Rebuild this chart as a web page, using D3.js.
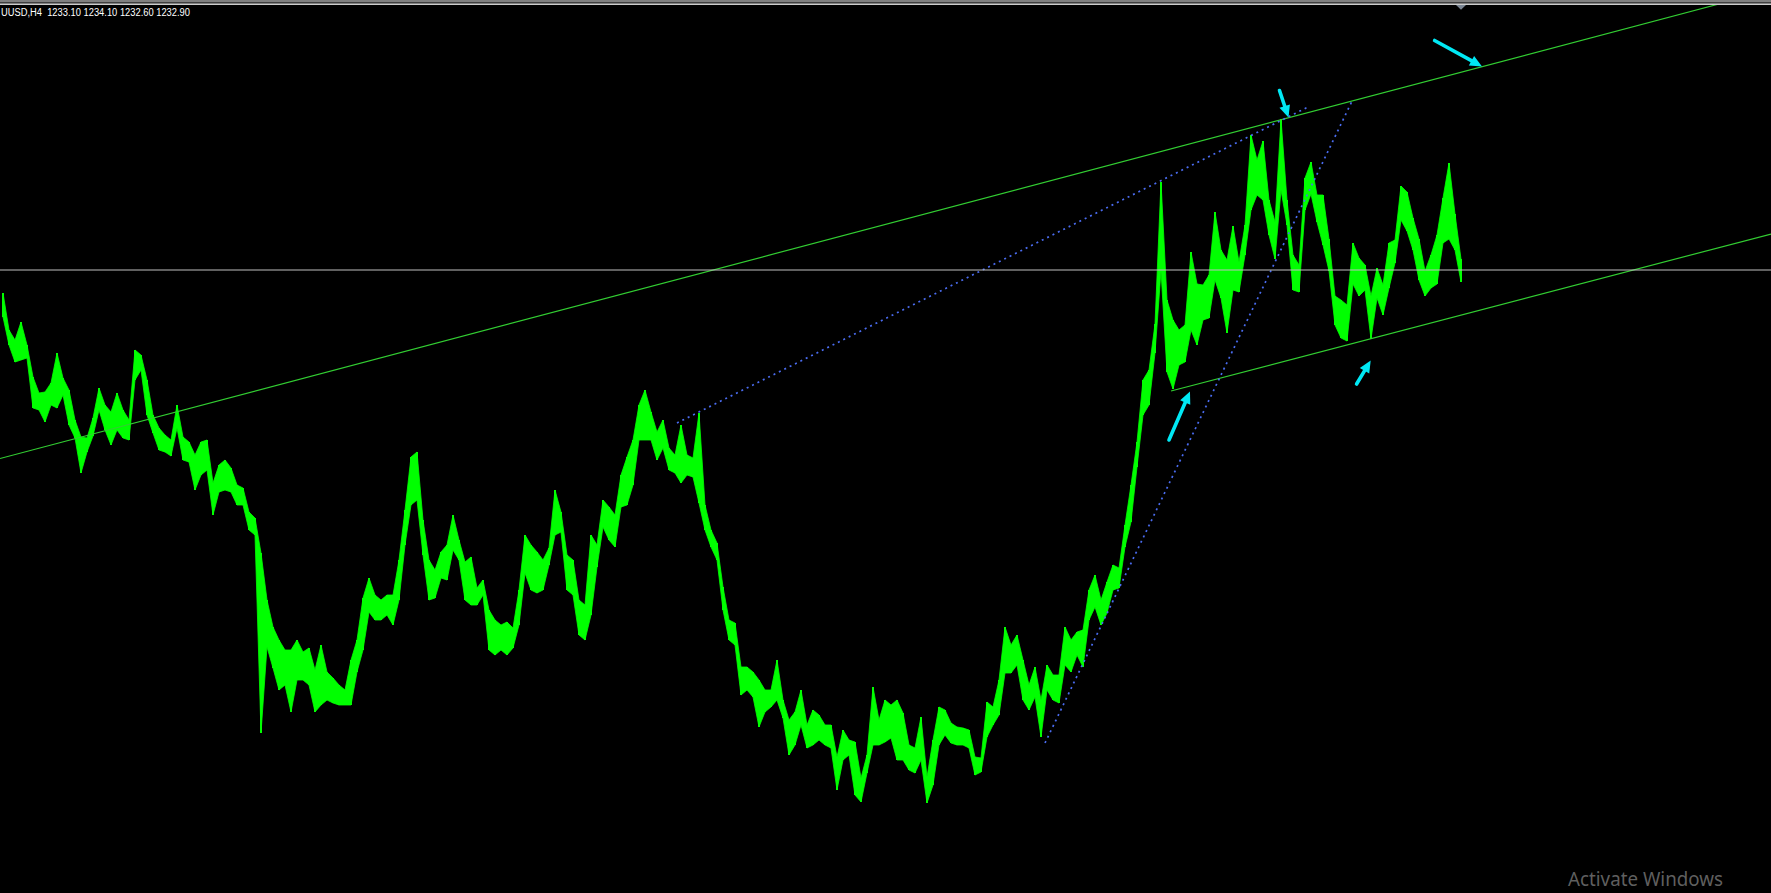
<!DOCTYPE html>
<html><head><meta charset="utf-8">
<script src="https://cdn.jsdelivr.net/npm/d3@7"></script>
<style>html,body{margin:0;padding:0;background:#000;overflow:hidden}</style>
</head><body><svg id="chart"></svg>
<script>
// ---- data ----
const symbolName = "UUSD";
const timeframe = "H4";
const ohlc = [1233.10, 1234.10, 1232.60, 1232.90];
const bidPrice = 1232.90;
const watermark = "Activate Windows";

const highs = [
1228.3,1220.9,1218.9,1222.5,1217.9,1211.5,1208.3,1208.5,1210.3,1216.3,
1211.3,1208.9,1202.9,1199.5,1199.3,1203.3,1209.3,1205.9,1204.5,1208.3,
1204.9,1202.9,1216.9,1215.9,1210.9,1203.9,1201.3,1199.9,1198.9,1205.9,
1199.5,1198.5,1195.9,1198.5,1198.9,1190.3,1193.9,1194.9,1193.3,1189.9,
1189.3,1184.5,1183.3,1176.3,1166.9,1161.5,1158.9,1156.9,1156.9,1158.9,
1156.5,1157.3,1152.9,1157.9,1152.5,1151.3,1149.9,1148.9,1154.9,1158.9,
1167.3,1171.3,1167.9,1166.9,1167.9,1167.9,1174.9,1184.9,1195.5,1196.5,
1182.9,1174.9,1172.9,1176.5,1177.9,1183.9,1178.9,1174.5,1175.5,1169.3,
1170.9,1164.9,1162.9,1161.9,1162.5,1161.3,1168.9,1179.9,1177.9,1176.5,
1174.9,1177.3,1188.9,1184.5,1175.9,1174.9,1166.9,1165.9,1179.9,1177.9,
1186.9,1185.5,1183.9,1191.9,1195.5,1198.9,1205.9,1208.9,1204.5,1200.5,
1202.9,1197.3,1195.9,1201.9,1195.9,1195.3,1204.3,1185.9,1180.9,1178.3,
1169.5,1162.9,1162.3,1153.5,1153.5,1152.5,1150.9,1148.9,1148.9,1154.9,
1146.9,1142.9,1144.5,1148.9,1141.9,1144.9,1143.9,1141.9,1141.9,1135.5,
1140.9,1138.9,1138.5,1131.3,1135.9,1149.5,1142.9,1146.9,1145.9,1146.9,
1144.3,1137.9,1137.3,1143.5,1131.5,1138.9,1145.5,1144.9,1142.3,1141.5,
1141.3,1140.9,1135.5,1135.3,1146.5,1145.5,1150.9,1161.5,1157.9,1159.9,
1154.9,1149.9,1153.5,1146.9,1153.9,1151.9,1151.9,1161.5,1158.9,1160.5,
1160.9,1168.9,1171.9,1166.9,1170.5,1173.9,1173.3,1181.9,1189.9,1198.5,
1210.9,1212.9,1222.1,1250.5,1226.9,1222.9,1220.9,1221.9,1236.5,1230.1,
1229.9,1231.9,1244.5,1236.9,1234.9,1241.7,1234.5,1241.9,1259.9,1254.9,
1258.7,1246.9,1242.5,1263.1,1246.9,1235.9,1233.9,1251.3,1254.5,1247.9,
1247.9,1239.1,1227.7,1226.9,1225.9,1238.3,1235.3,1233.9,1227.7,1233.3,
1229.9,1238.3,1238.9,1249.7,1248.5,1243.3,1239.1,1232.7,1235.9,1239.9,
1247.3,1254.3,1244.1,1235.1];

const lows = [
1223.5,1217.9,1214.5,1214.9,1215.3,1205.3,1204.9,1202.5,1205.9,1205.3,
1207.9,1201.9,1199.3,1192.3,1196.5,1199.7,1204.9,1200.9,1197.9,1200.9,
1199.3,1198.9,1210.9,1212.9,1203.9,1200.3,1196.9,1196.5,1195.7,1201.3,
1194.9,1194.5,1188.9,1191.9,1192.9,1183.9,1188.5,1188.9,1188.5,1185.9,
1185.9,1180.9,1179.9,1140.3,1157.5,1153.3,1148.9,1149.9,1144.5,1150.9,
1150.9,1149.9,1144.5,1145.9,1146.9,1146.3,1145.9,1145.9,1145.9,1152.5,
1156.9,1164.5,1162.9,1162.9,1163.9,1161.9,1166.9,1177.9,1185.9,1186.9,
1175.9,1166.9,1167.3,1171.3,1170.9,1176.9,1174.9,1166.9,1165.9,1165.9,
1167.9,1156.9,1155.9,1156.9,1155.9,1157.3,1161.9,1172.3,1168.9,1168.3,
1168.9,1173.9,1179.9,1180.5,1168.9,1167.9,1159.9,1158.9,1163.9,1173.5,
1181.5,1178.9,1177.5,1185.5,1185.9,1189.9,1198.9,1198.9,1198.9,1194.9,
1197.3,1192.9,1192.3,1190.3,1191.9,1191.5,1186.3,1180.9,1177.5,1174.9,
1164.9,1158.9,1157.9,1147.9,1148.9,1147.5,1141.5,1144.5,1145.5,1146.9,
1143.3,1135.9,1137.9,1141.9,1137.3,1137.9,1138.9,1137.9,1137.3,1128.9,
1134.9,1135.9,1127.9,1126.5,1132.3,1137.9,1137.9,1138.5,1139.3,1134.9,
1134.9,1132.9,1132.3,1134.9,1126.3,1129.9,1137.9,1139.9,1138.3,1137.9,
1137.9,1137.3,1131.9,1132.5,1139.5,1141.9,1143.9,1152.3,1152.3,1153.9,
1146.9,1144.9,1147.5,1139.5,1148.9,1146.9,1146.3,1153.9,1152.5,1155.9,
1153.5,1162.9,1165.5,1161.9,1164.3,1168.9,1169.3,1177.5,1182.5,1193.5,
1203.9,1205.9,1216.3,1232.7,1212.5,1209.1,1213.9,1214.5,1220.9,1217.9,
1222.9,1223.3,1230.9,1227.3,1220.3,1228.9,1228.5,1235.9,1244.9,1247.9,
1246.9,1239.9,1235.1,1248.9,1241.9,1228.9,1228.5,1244.9,1248.1,1242.5,
1237.9,1232.7,1221.9,1219.3,1218.7,1230.1,1227.7,1228.9,1219.1,1227.3,
1223.9,1229.3,1234.3,1242.9,1240.7,1236.9,1230.9,1227.7,1229.3,1230.1,
1238.3,1239.1,1236.9,1230.5];

// trendlines as [barIndex, price] pairs
const upperChannel = [[-0.5, 1195.2], [285.7, 1286.0]];
const lowerChannel = [[194.67, 1208.7], [294.67, 1240.1]];
const dottedLine1  = [[112.33, 1202.3], [217.83, 1265.7]];
const dottedLine2  = [[173.67, 1138.3], [225.0, 1267.1]];
// arrows: [fromIndex, fromPrice, toIndex, toPrice]
const arrowMarks = [
  [238.6, 1278.8, 246.5, 1273.6],
  [212.75, 1268.8, 214.25, 1263.4],
  [194.33, 1198.9, 197.83, 1208.6],
  [225.6, 1210.1, 227.95, 1214.8]
];

// ---- drawing ----
const W = 1771, H = 893;
const svg = d3.select("#chart").attr("width", W).attr("height", H)
  .style("display", "block").style("background", "#000");

const x = d3.scaleLinear().domain([-0.5, 294.6667]).range([0, W]);
const y = d3.scaleLinear().domain([1108.3, 1286.9]).range([H, 0]);

svg.append("defs").append("clipPath").attr("id", "plot")
  .append("rect").attr("x", 0).attr("y", 5).attr("width", W).attr("height", H - 5);

const plot = svg.append("g").attr("clip-path", "url(#plot)");

// price band (continuous range between bars)
const band = d3.area()
  .x((d, i) => x(i))
  .y0((d, i) => y(lows[i]))
  .y1(d => y(d))
  .curve(d3.curveLinear);
plot.append("path").datum(highs).attr("d", band)
  .attr("fill", "#00ff00").attr("stroke", "#00ff00").attr("stroke-width", 0.8);

// bars
plot.append("g").selectAll("line").data(highs).join("line")
  .attr("x1", (d, i) => x(i)).attr("x2", (d, i) => x(i))
  .attr("y1", d => y(d)).attr("y2", (d, i) => y(lows[i]))
  .attr("stroke", "#00ff00").attr("stroke-width", 2);

const line = d3.line().x(d => x(d[0])).y(d => y(d[1]));

// channel lines
[upperChannel, lowerChannel].forEach(l => plot.append("path")
  .attr("d", line(l)).attr("fill", "none")
  .attr("stroke", "#32cd32").attr("stroke-width", 1.2));

// dotted lines
[dottedLine1, dottedLine2].forEach(l => plot.append("path")
  .attr("d", line(l)).attr("fill", "none")
  .attr("stroke", "#4a6cf0").attr("stroke-width", 1.7).attr("stroke-dasharray", "2,4"));

// bid line
plot.append("line").attr("x1", 0).attr("x2", W)
  .attr("y1", y(bidPrice)).attr("y2", y(bidPrice))
  .attr("stroke", "#c0c0c0").attr("stroke-width", 1);

// arrows
const ag = plot.append("g");
arrowMarks.forEach(a => {
  const x1 = x(a[0]), y1 = y(a[1]), x2 = x(a[2]), y2 = y(a[3]);
  const dx = x2 - x1, dy = y2 - y1, len = Math.hypot(dx, dy);
  const ux = dx / len, uy = dy / len, nx = -uy, ny = ux;
  const hl = 12, hw = 5.5;
  const bx = x2 - ux * hl, by = y2 - uy * hl;
  ag.append("line").attr("x1", x1).attr("y1", y1).attr("x2", bx + ux * 2).attr("y2", by + uy * 2)
    .attr("stroke", "#00e8f4").attr("stroke-width", 3.6).attr("stroke-linecap", "round");
  ag.append("path")
    .attr("d", `M${x2},${y2}L${bx + nx * hw},${by + ny * hw}L${bx - nx * hw},${by - ny * hw}Z`)
    .attr("fill", "#00e8f4");
});

// top border
svg.append("rect").attr("x", 0).attr("y", 0).attr("width", W).attr("height", 2.5).attr("fill", "#808080");
svg.append("rect").attr("x", 0).attr("y", 3.5).attr("width", W).attr("height", 1.3).attr("fill", "#ffffff");

// shift marker triangle at last bar
const lastX = x(highs.length - 1);
svg.append("path").attr("d", `M${lastX - 5},5L${lastX + 5},5L${lastX},9.7Z`).attr("fill", "#7a8593");

// header text
svg.append("text").attr("x", 1).attr("y", 15.7)
  .attr("fill", "#ffffff").attr("font-family", "Liberation Sans, Arial, sans-serif")
  .attr("font-size", 10).style("white-space", "pre")
  .attr("textLength", 189).attr("lengthAdjust", "spacingAndGlyphs")
  .text(`${symbolName},${timeframe}  ${ohlc.map(v => v.toFixed(2)).join(" ")}`);

// watermark
svg.append("text").attr("x", 1568).attr("y", 886)
  .attr("fill", "#5f5f5f").attr("font-family", "Noto Sans, Open Sans, sans-serif")
  .attr("font-size", 19).attr("textLength", 155).attr("lengthAdjust", "spacingAndGlyphs")
  .text(watermark);
</script></body></html>
